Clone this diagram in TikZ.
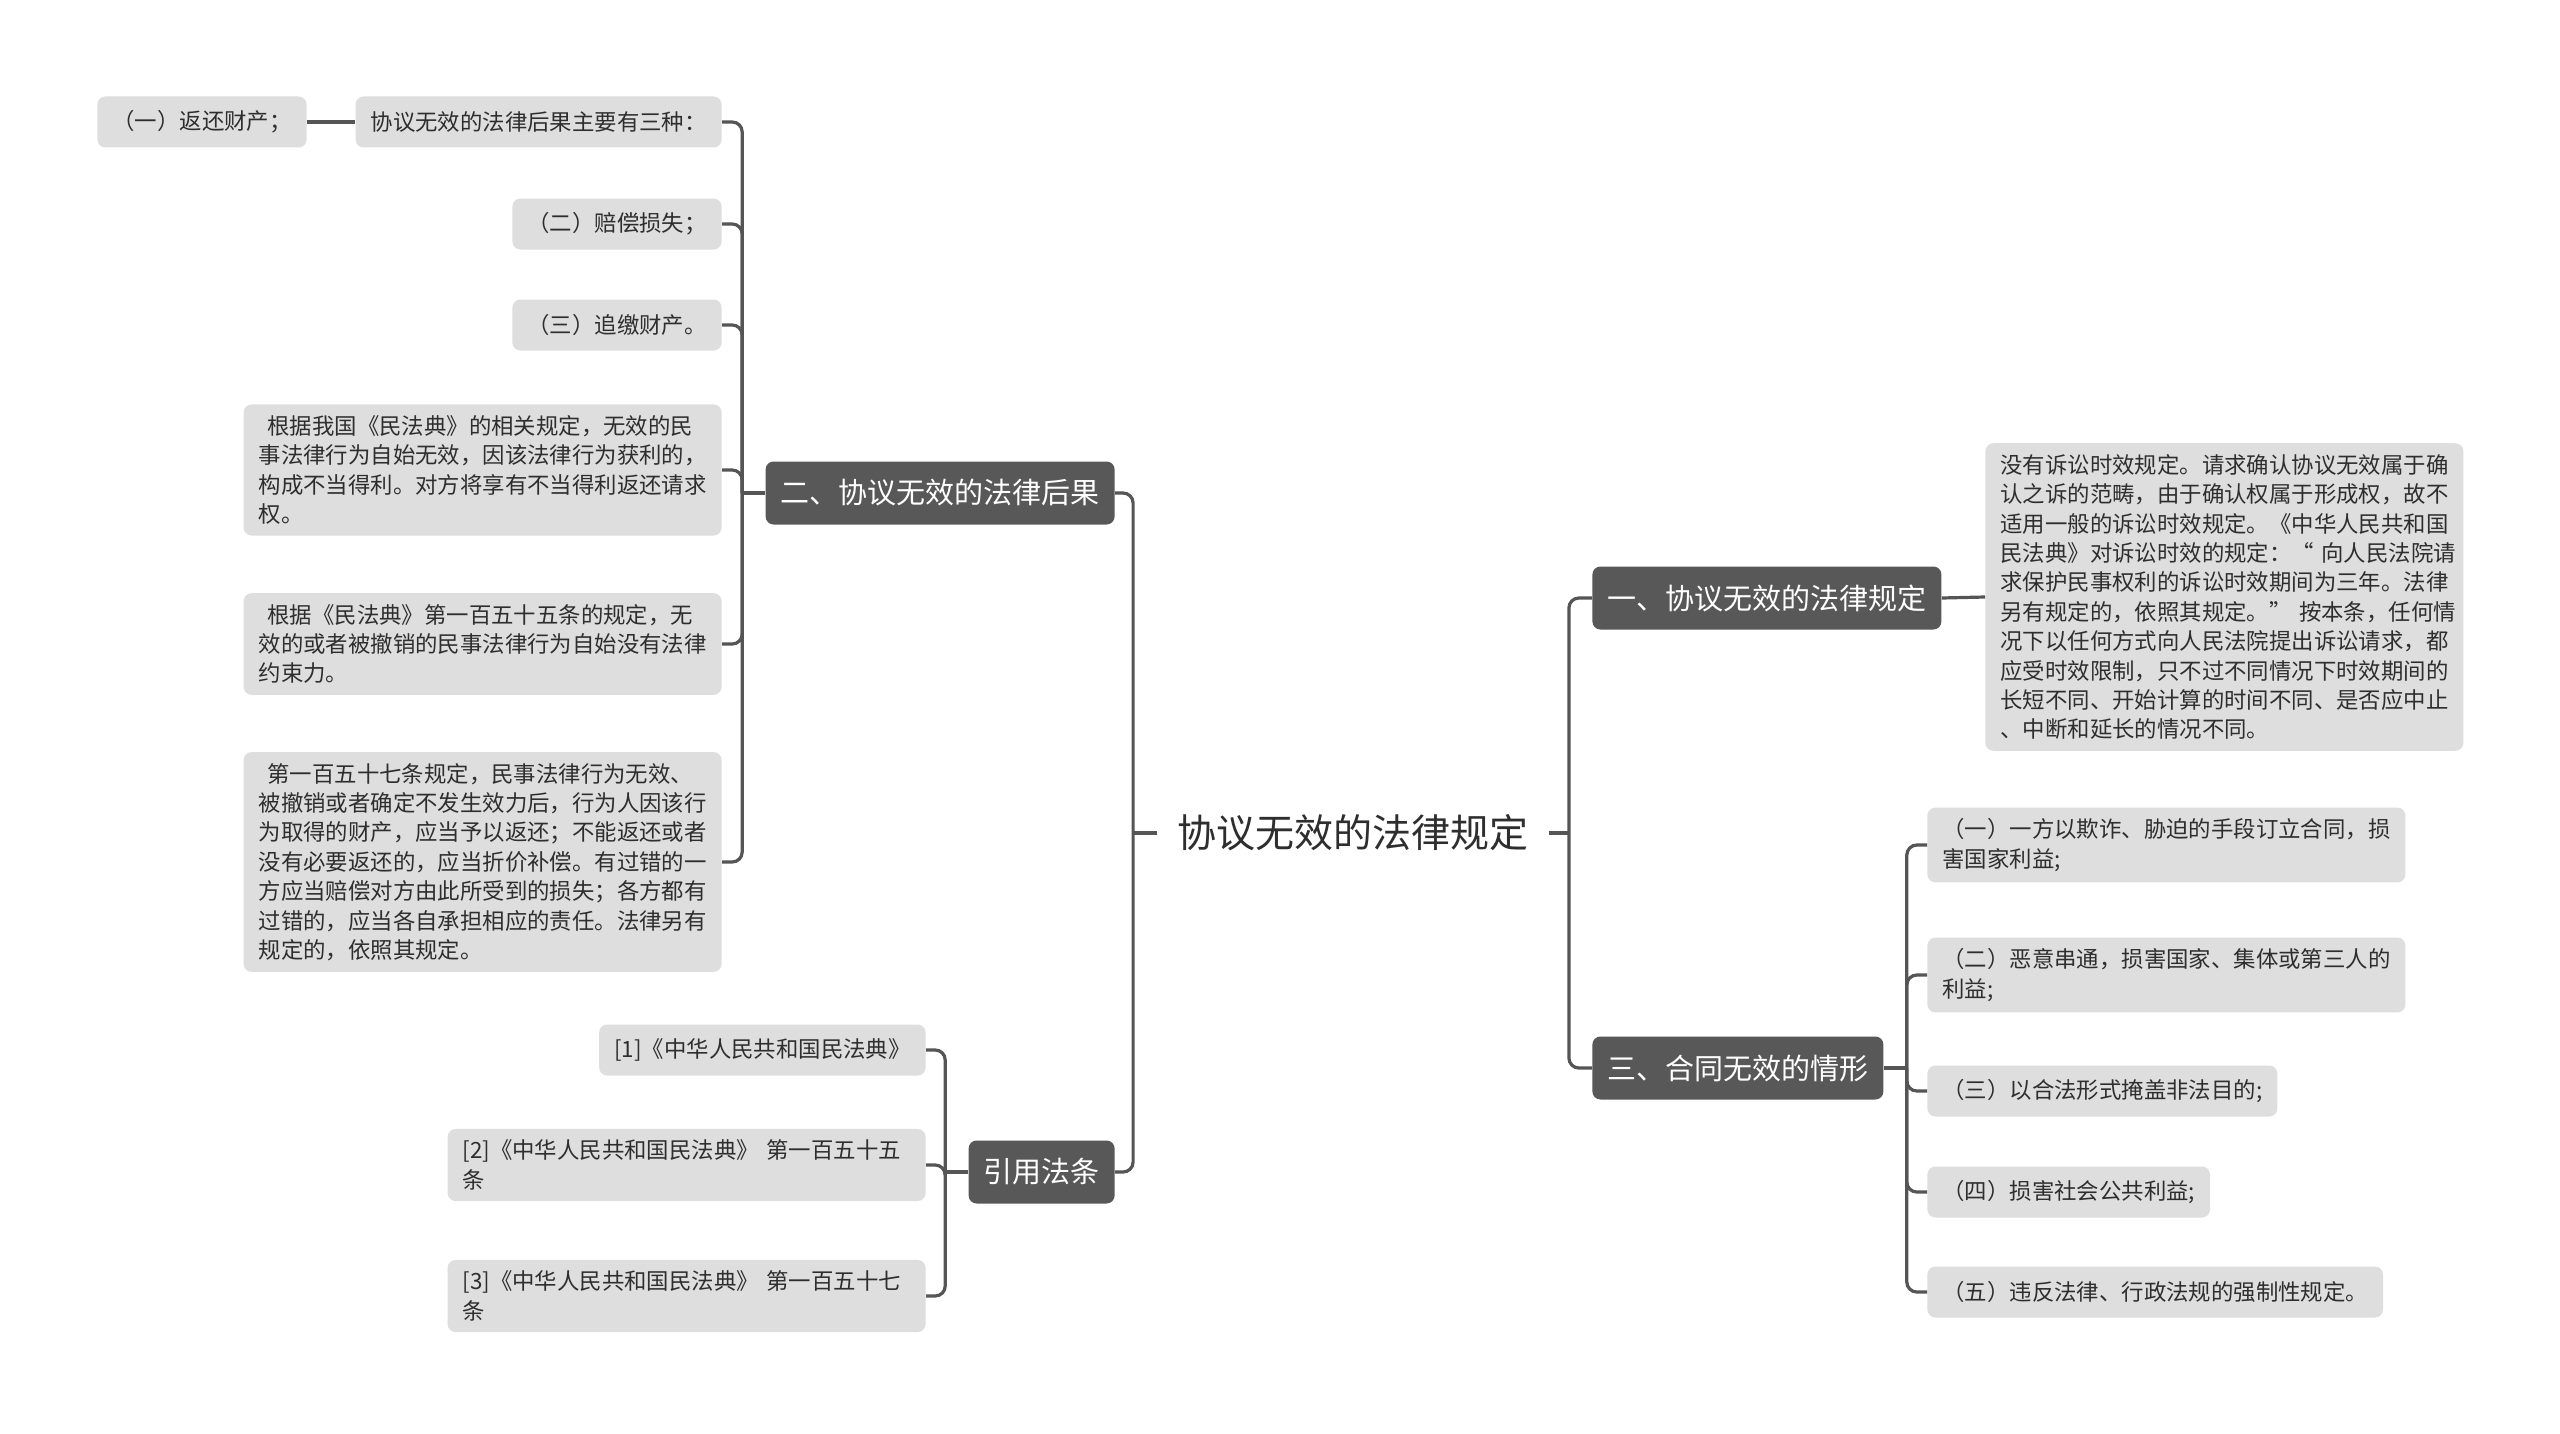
\documentclass[tikz,border=0pt]{standalone}
\usepackage{fontspec}
\setmainfont{Noto Sans CJK SC}
\usepackage{tikz}
\definecolor{BranchFill}{HTML}{585858}
\definecolor{LeafFill}{HTML}{DEDEDE}
\definecolor{LinkGray}{HTML}{555555}
\definecolor{TextDark}{HTML}{2E2E2E}

\begin{document}
\begin{tikzpicture}[
  x=0.5pt, y=-0.5pt,
  topic/.style={inner xsep=10pt, inner ysep=4pt, text=TextDark,
                font=\fontsize{19.5}{24}\selectfont},
  mainbox/.style={rectangle, rounded corners=4pt, fill=BranchFill, text=white,
                  inner xsep=7.5pt, minimum height=31.5pt,
                  font=\fontsize{14.5}{18}\selectfont},
  leaf/.style={rectangle, rounded corners=4pt, fill=LeafFill, text=TextDark,
               inner xsep=7.5pt, minimum height=25.5pt,
               font=\fontsize{11.2}{14.7}\selectfont},
  para/.style={leaf, text width=224pt, align=left, inner ysep=5.5pt},
  conn/.style={draw=LinkGray, line width=1.6pt, rounded corners=5pt},
]
  \useasboundingbox[fill=white] (0,0) rectangle (2560,1434);

  % Nodes
  \node[topic] (root) at (1353,833) {协议无效的法律规定};

  \node[mainbox, anchor=east] (effect) at (1115,493) {二、协议无效的法律后果};
  \node[mainbox, anchor=east] (cite) at (1115,1172) {引用法条};
  \node[mainbox, anchor=west] (rule) at (1592,598) {一、协议无效的法律规定};
  \node[mainbox, anchor=west] (cases) at (1592,1068) {三、合同无效的情形};

  \node[leaf, anchor=east] (kinds) at (722,122) {协议无效的法律后果主要有三种：};
  \node[leaf, anchor=east] (giveback) at (307,122) {（一）返还财产；};
  \node[leaf, anchor=east] (damages) at (722,224) {（二）赔偿损失；};
  \node[leaf, anchor=east] (recover) at (722,325) {（三）追缴财产。};
  \node[para, anchor=east] (unjust) at (722,470) {\hspace*{0.4em}根据我国《民法典》的相关规定，无效的民\\
    事法律行为自始无效，因该法律行为获利的，\\
    构成不当得利。对方将享有不当得利返还请求\\
    权。};
  \node[para, anchor=east] (art155) at (722,644) {\hspace*{0.4em}根据《民法典》第一百五十五条的规定，无\\
    效的或者被撤销的民事法律行为自始没有法律\\
    约束力。};
  \node[para, anchor=east] (art157) at (722,862) {\hspace*{0.4em}第一百五十七条规定，民事法律行为无效、\\
    被撤销或者确定不发生效力后，行为人因该行\\
    为取得的财产，应当予以返还；不能返还或者\\
    没有必要返还的，应当折价补偿。有过错的一\\
    方应当赔偿对方由此所受到的损失；各方都有\\
    过错的，应当各自承担相应的责任。法律另有\\
    规定的，依照其规定。};

  \node[leaf, anchor=east] (ref1) at (926,1050) {[1]《中华人民共和国民法典》};
  \node[para, anchor=east] (ref2) at (926,1165) {[2]《中华人民共和国民法典》~第一百五十五\\条};
  \node[para, anchor=east] (ref3) at (926,1296) {[3]《中华人民共和国民法典》~第一百五十七\\条};

  \node[para, anchor=west] (limit) at (1985,597) {没有诉讼时效规定。请求确认协议无效属于确\\
    认之诉的范畴，由于确认权属于形成权，故不\\
    适用一般的诉讼时效规定。《中华人民共和国\\
    民法典》对诉讼时效的规定：“~向人民法院请\\
    求保护民事权利的诉讼时效期间为三年。法律\\
    另有规定的，依照其规定。”~按本条，任何情\\
    况下以任何方式向人民法院提出诉讼请求，都\\
    应受时效限制，只不过不同情况下时效期间的\\
    长短不同、开始计算的时间不同、是否应中止\\
    、中断和延长的情况不同。};

  \node[para, anchor=west] (fraud) at (1927,845) {（一）一方以欺诈、胁迫的手段订立合同，损\\害国家利益;};
  \node[para, anchor=west] (collude) at (1927,975) {（二）恶意串通，损害国家、集体或第三人的\\利益;};
  \node[leaf, anchor=west] (disguise) at (1927,1091) {（三）以合法形式掩盖非法目的;};
  \node[leaf, anchor=west] (public) at (1927,1192) {（四）损害社会公共利益;};
  \node[leaf, anchor=west] (violate) at (1927,1292) {（五）违反法律、行政法规的强制性规定。};

  % Hubs
  \coordinate (left-hub) at ([xshift=-12pt]root.west);
  \coordinate (right-hub) at ([xshift=10pt]root.east);
  \coordinate (effect-hub) at ([xshift=-11.5pt]effect.west);
  \coordinate (cite-hub) at ([xshift=-11.5pt]cite.west);
  \coordinate (cases-hub) at ([xshift=11.5pt]cases.east);

  % Connectors
  \draw[conn] (root.west) -- (left-hub);
  \draw[conn] (root.east) -- (right-hub);
  \foreach \n in {effect, cite} \draw[conn] (left-hub) |- (\n.east);
  \foreach \n in {rule, cases} \draw[conn] (right-hub) |- (\n.west);

  \draw[conn] (effect.west) -- (effect-hub);
  \foreach \n in {kinds, damages, recover, unjust, art155, art157}
    \draw[conn] (effect-hub) |- (\n.east);
  \draw[conn] (kinds.west) -- (giveback.east);

  \draw[conn] (cite.west) -- (cite-hub);
  \foreach \n in {ref1, ref2, ref3} \draw[conn] (cite-hub) |- (\n.east);

  \draw[conn] (rule.east) -- (limit.west);

  \draw[conn] (cases.east) -- (cases-hub);
  \foreach \n in {fraud, collude, disguise, public, violate}
    \draw[conn] (cases-hub) |- (\n.west);
\end{tikzpicture}
\end{document}
